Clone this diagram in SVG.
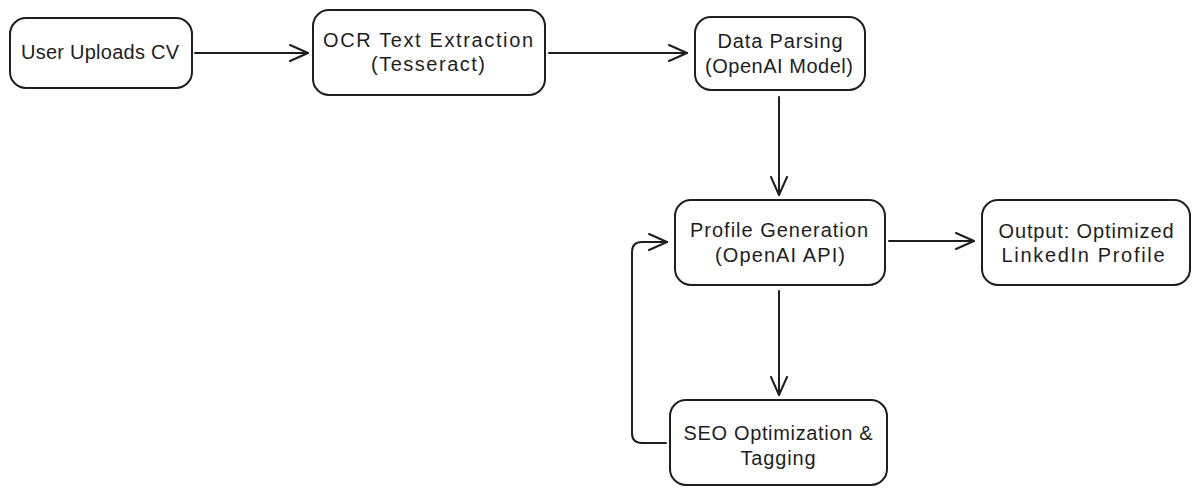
<svg xmlns="http://www.w3.org/2000/svg" width="1200" height="495" viewBox="0 0 1200 495">
<defs>
<style>
.box{fill:#ffffff;stroke:#1e1e1e;stroke-width:2;}
.t{font-family:"Liberation Sans",Arial,sans-serif;font-size:20px;fill:#1e1e1e;text-anchor:middle;}
.c{fill:none;stroke:#1e1e1e;stroke-width:2;stroke-linecap:round;stroke-linejoin:round;}
</style>
<marker id="ah" viewBox="0 0 20 20" refX="19" refY="10" markerWidth="20" markerHeight="20" markerUnits="userSpaceOnUse" orient="auto">
<path d="M1,2 L19,10 L1,18" fill="none" stroke="#1e1e1e" stroke-width="2" stroke-linecap="round" stroke-linejoin="round"/>
</marker>
</defs>
<rect width="1200" height="495" fill="#ffffff"/>
<g id="connectors">
<path class="c" d="M195,53 L308,53" marker-end="url(#ah)"/>
<path class="c" d="M549,53 L687,53" marker-end="url(#ah)"/>
<path class="c" d="M779,97 L779,195" marker-end="url(#ah)"/>
<path class="c" d="M889,241 L974,241" marker-end="url(#ah)"/>
<path class="c" d="M779,291 L779,395" marker-end="url(#ah)"/>
<path class="c" d="M666,443 L642,443 Q632,443 632,433 L632,252 Q632,242 642,242 L667,242" marker-end="url(#ah)"/>
</g>
<g id="n1">
<rect class="box" x="10" y="18" width="182" height="70" rx="16"/>
<text class="t" x="100" y="59" textLength="158" lengthAdjust="spacing">User Uploads CV</text>
</g>
<g id="n2">
<rect class="box" x="313" y="10" width="232" height="85" rx="16"/>
<text class="t" x="428" y="47" textLength="210" lengthAdjust="spacing">OCR Text Extraction</text>
<text class="t" x="428" y="71" textLength="114" lengthAdjust="spacing">(Tesseract)</text>
</g>
<g id="n3">
<rect class="box" x="695" y="17" width="170" height="73" rx="16"/>
<text class="t" x="780" y="48" textLength="125" lengthAdjust="spacing">Data Parsing</text>
<text class="t" x="779" y="73" textLength="148" lengthAdjust="spacing">(OpenAI Model)</text>
</g>
<g id="n4">
<rect class="box" x="675" y="200" width="210" height="85" rx="16"/>
<text class="t" x="779" y="237" textLength="178" lengthAdjust="spacing">Profile Generation</text>
<text class="t" x="780" y="262" textLength="130" lengthAdjust="spacing">(OpenAI API)</text>
</g>
<g id="n5">
<rect class="box" x="982" y="200" width="208" height="85" rx="16"/>
<text class="t" x="1086" y="238" textLength="175" lengthAdjust="spacing">Output: Optimized</text>
<text class="t" x="1083" y="262" textLength="163" lengthAdjust="spacing">LinkedIn Profile</text>
</g>
<g id="n6">
<rect class="box" x="670" y="400" width="217" height="85" rx="16"/>
<text class="t" x="778" y="440" textLength="189" lengthAdjust="spacing">SEO Optimization &amp;</text>
<text class="t" x="778" y="465" textLength="75" lengthAdjust="spacing">Tagging</text>
</g>
</svg>
